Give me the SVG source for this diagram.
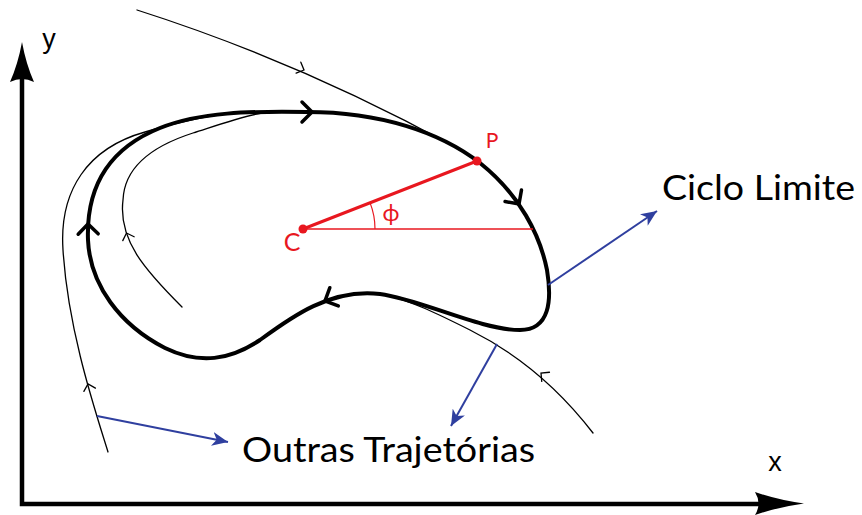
<svg xmlns="http://www.w3.org/2000/svg" width="862" height="515" viewBox="0 0 862 515">
<style>
.thick{fill:none;stroke:#000;stroke-width:4;stroke-linejoin:round;stroke-linecap:round}
.thin{fill:none;stroke:#000;stroke-width:1.3;stroke-linecap:round}
.chevT{fill:none;stroke:#000;stroke-width:3.5;stroke-linecap:round;stroke-linejoin:miter}
.chevt{fill:none;stroke:#000;stroke-width:1.3;stroke-linecap:round}
.red{stroke:#e8171f;fill:none}
.blue{stroke:#2f3f9f;stroke-width:2;fill:none}
.lbl{font-family:"Liberation Sans",Arial,sans-serif;fill:#000}
.big{font-family:Lato,"Open Sans","Liberation Sans",sans-serif;fill:#000}
.rlbl{font-family:Lato,"Liberation Sans",Arial,sans-serif;fill:#e8171f}
</style>
<defs>
<path id="cT" d="M -10 -10 L 0 0 L -10 10"/>
<path id="ct" d="M -6 -6 L 0 0 L -6 6"/>
<marker id="bh" markerUnits="userSpaceOnUse" markerWidth="18" markerHeight="14" refX="16" refY="7" orient="auto">
<path d="M 0 0 L 16 7 L 0 14 L 4.5 7 Z" fill="#2f3f9f"/>
</marker>
</defs>

<g id="axes">
<polyline points="22,60 22,504 785,504" fill="none" stroke="#000" stroke-width="4.5" stroke-linejoin="miter"/>
<path d="M 22 42 Q 26 64 34 82 Q 22 76 10 82 Q 18 64 22 42 Z" fill="#000"/>
<path d="M 804 503.5 Q 778 507 755 515 Q 762 503.5 755 492 Q 778 500 804 503.5 Z" fill="#000"/>
<text class="lbl" x="49" y="48" font-size="27" text-anchor="middle">y</text>
<text class="lbl" x="775" y="471" font-size="27" text-anchor="middle">x</text>
</g>

<g id="trajectories">
<path class="thin" d="M 137 10 Q 300 62 455 147"/>
<path class="thin" d="M 108 452 C 95 410, 68 330, 63 250 C 59 190, 88 148, 145 132 C 175 123, 210 115, 240 112"/>
<path class="thin" d="M 182 307 C 145 270, 118 240, 123 200 C 124 175, 140 150, 193 133 C 215 126, 240 117, 262 113"/>
<path class="thin" d="M 593 433 C 560 390, 520 355, 470 330 C 440 315, 410 300, 385 295"/>
<use href="#ct" class="chevt" transform="translate(304,70) rotate(23)"/>
<use href="#ct" class="chevt" transform="translate(88,384) rotate(-106)"/>
<use href="#ct" class="chevt" transform="translate(126.5,233) rotate(-109)"/>
<use href="#ct" class="chevt" transform="translate(541,373) rotate(-140)"/>
</g>

<g id="limit-cycle">
<path class="thick" d="M 307 112 C 380 112, 440 132, 480 163 C 520 195, 540 235, 547 270 C 552 300, 550 330, 520 330 C 480 330, 420 299, 380 294 C 330 288, 290 318, 260 340 C 230 360, 200 365, 165 348 C 120 325, 90 285, 88 240 C 86 185, 110 148, 160 128 C 200 112, 250 111, 307 112 Z"/>
<use href="#cT" class="chevT" transform="translate(312,112)"/>
<use href="#cT" class="chevT" transform="translate(519,204) rotate(55)"/>
<use href="#cT" class="chevT" transform="translate(325,301) rotate(155)"/>
<use href="#cT" class="chevT" transform="translate(88,224) rotate(-91)"/>
</g>

<g id="geometry">
<line class="red" x1="303" y1="229" x2="533" y2="229" stroke-width="1.5"/>
<line class="red" x1="303" y1="229" x2="477" y2="161" stroke-width="3"/>
<path class="red" stroke-width="1.2" d="M 375 229 A 72 72 0 0 0 370 202.6"/>
<circle cx="303" cy="229" r="4.5" fill="#e8171f"/>
<circle cx="477" cy="161" r="4.5" fill="#e8171f"/>
<text class="rlbl" x="292" y="251" font-size="25" text-anchor="middle">C</text>
<text class="rlbl" x="492" y="148" font-size="21" text-anchor="middle">P</text>
<text class="rlbl" x="391" y="221" font-size="23" text-anchor="middle">ϕ</text>
</g>

<g id="label-ciclo">
<text class="big" x="662" y="200" font-size="35" textLength="193" lengthAdjust="spacingAndGlyphs">Ciclo Limite</text>
</g>
<g id="label-outras">
<text class="big" x="242" y="462" font-size="34" textLength="293" lengthAdjust="spacingAndGlyphs">Outras Trajetórias</text>
</g>

<g id="connectors">
<line class="blue" x1="548" y1="285" x2="657" y2="211" marker-end="url(#bh)"/>
<line class="blue" x1="497" y1="344" x2="451" y2="426" marker-end="url(#bh)"/>
<line class="blue" x1="97" y1="416" x2="228" y2="442" marker-end="url(#bh)"/>
</g>
</svg>
